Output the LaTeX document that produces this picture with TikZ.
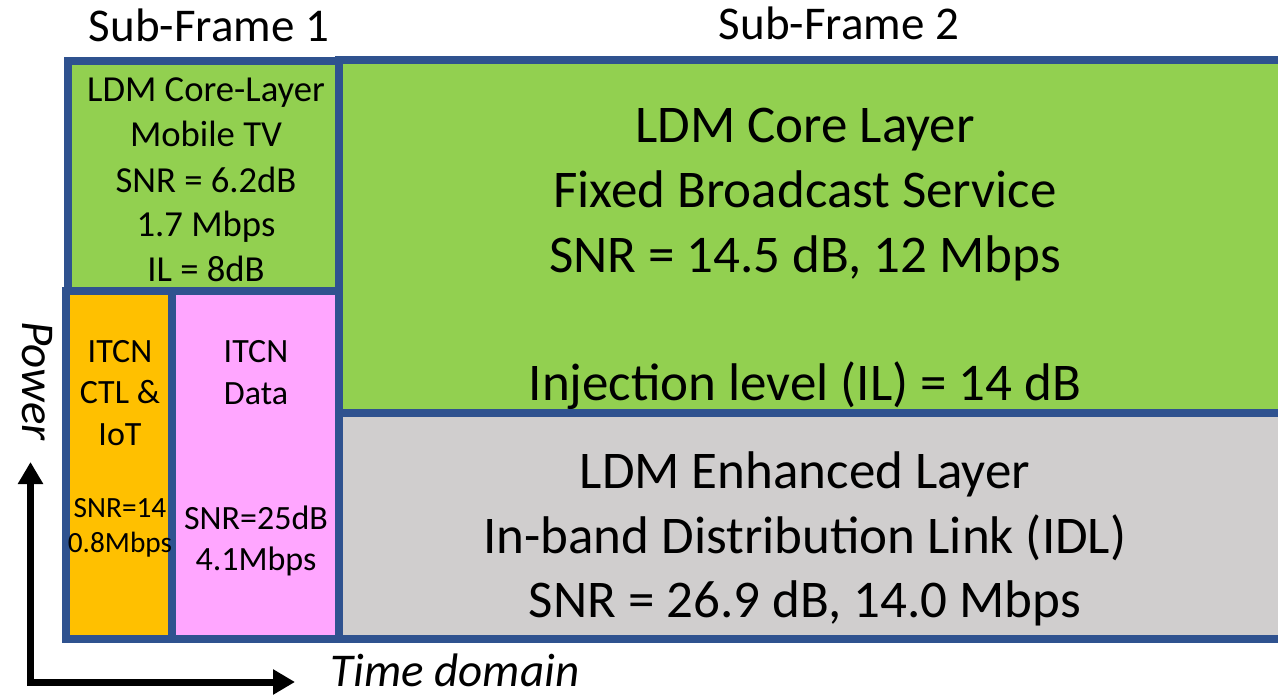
\documentclass[tikz,border=0pt]{standalone}
\usepackage{fontspec}
\setmainfont{Carlito}
\usetikzlibrary{arrows.meta}

\definecolor{frameblue}{RGB}{47,82,143}
\definecolor{coregreen}{RGB}{146,208,80}
\definecolor{enhgray}{RGB}{208,206,206}
\definecolor{ctlorange}{RGB}{255,192,0}
\definecolor{datapink}{RGB}{255,166,255}

\tikzset{
  frame/.style={draw=frameblue, line width=6pt},
  txt/.style={inner sep=0pt, anchor=base},
  headtxt/.style={txt, font=\fontsize{35.25}{42}\selectfont},
  mobtxt/.style={txt, font=\fontsize{27.5}{33}\selectfont},
  bigtxt/.style={txt, font=\fontsize{39.75}{48}\selectfont},
  itcntxt/.style={txt, font=\fontsize{25.5}{30}\selectfont},
  smalltxt/.style={txt, font=\fontsize{22}{26}\selectfont},
  axistxt/.style={txt, font=\fontsize{35.25}{42}\selectfont\itshape},
  axisarrow/.style={line width=5.25pt, line join=miter,
    {Triangle[width=18pt,length=16.5pt]}-{Triangle[width=18pt,length=16.5pt]}}
}

\begin{document}
\begin{tikzpicture}[x=0.75pt,y=-0.75pt]
\useasboundingbox (0,0) rectangle (1278,695);
% sub-frame 2
\draw[frame, fill=coregreen] (339,60) rectangle (1300,413);
\draw[frame, fill=enhgray] (339,413) rectangle (1300,639);
% sub-frame 1
\draw[frame, fill=coregreen] (68,61) rectangle (339,291);
\draw[frame, fill=ctlorange] (66,291) rectangle (172,639);
\draw[frame, fill=datapink] (172,291) rectangle (339,639);
\node[headtxt] (sfone) at (209,42) {Sub-Frame 1};
\node[headtxt] (sftwo) at (839,40) {Sub-Frame 2};
\node[mobtxt] (mob1) at (206,102) {LDM Core-Layer};
\node[mobtxt] (mob2) at (206,147) {Mobile TV};
\node[mobtxt] (mob3) at (206,193) {SNR = 6.2dB};
\node[mobtxt] (mob4) at (206,237) {1.7 Mbps};
\node[mobtxt] (mob5) at (206,282) {IL = 8dB};
\node[itcntxt] (ctl1) at (120,362) {ITCN};
\node[itcntxt] (ctl2) at (120,403) {CTL \&};
\node[itcntxt] (ctl3) at (120,445) {IoT};
\node[smalltxt] (ctl4) at (120,517) {SNR=14};
\node[smalltxt] (ctl5) at (120,552) {0.8Mbps};
\node[itcntxt] (dat1) at (256,362) {ITCN};
\node[itcntxt] (dat2) at (256,404) {Data};
\node[itcntxt] (dat3) at (256,529) {SNR=25dB};
\node[itcntxt] (dat4) at (256,570) {4.1Mbps};
\node[bigtxt] (core1) at (805,143) {LDM Core Layer};
\node[bigtxt] (core2) at (805,208) {Fixed Broadcast Service};
\node[bigtxt] (core3) at (805,273) {SNR = 14.5 dB, 12 Mbps};
\node[bigtxt] (core4) at (805,400) {Injection level (IL) = 14 dB};
\node[bigtxt] (enh1) at (805,488) {LDM Enhanced Layer};
\node[bigtxt] (enh2) at (805,553) {In-band Distribution Link (IDL)};
\node[bigtxt] (enh3) at (805,617) {SNR = 26.9 dB, 14.0 Mbps};
% axes
\coordinate (origin) at (30.5,682);
\coordinate (ptop) at (30.5,462);
\coordinate (tend) at (295,682);
\draw[axisarrow] (ptop) -- (origin) -- (tend);
\node[axistxt, rotate=-90] (power) at (22,381) {Power};
\node[axistxt] (time) at (455,686) {Time domain};
\end{tikzpicture}
\end{document}
